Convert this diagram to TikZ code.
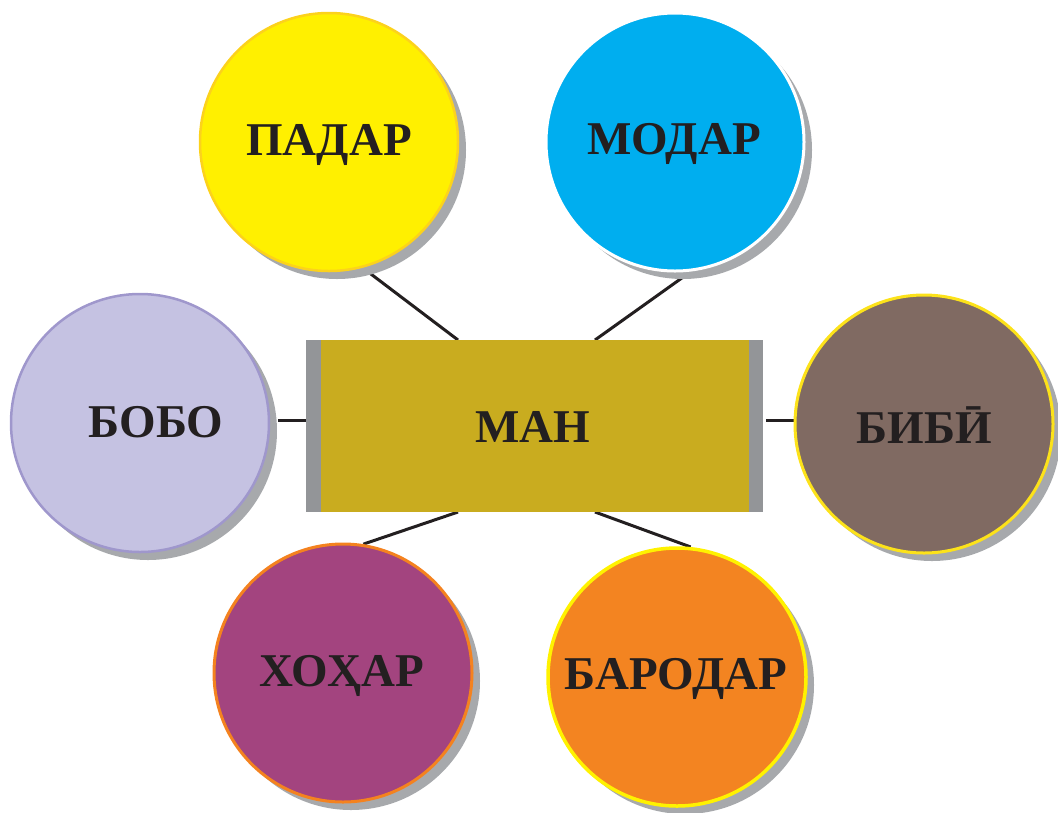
\documentclass[tikz,border=0pt]{standalone}
\usepackage{fontspec}
\setmainfont{Liberation Serif}
\usetikzlibrary{shadows,backgrounds}
\definecolor{txt}{HTML}{231F20}
\definecolor{shd}{HTML}{A7A9AC}
\definecolor{yelF}{HTML}{FFF000}
\definecolor{yelB}{HTML}{FCD21C}
\definecolor{bluF}{HTML}{00AEEF}
\definecolor{lavF}{HTML}{C5C2E2}
\definecolor{lavB}{HTML}{9F97CC}
\definecolor{brnF}{HTML}{806A62}
\definecolor{brnB}{HTML}{FCE21A}
\definecolor{purF}{HTML}{A3447F}
\definecolor{purB}{HTML}{F4821F}
\definecolor{orgF}{HTML}{F38421}
\definecolor{orgB}{HTML}{FFF200}
\definecolor{gold}{HTML}{C9AC1F}
\definecolor{bar}{HTML}{939598}
\tikzset{
  circ/.style={circle, minimum size=258pt, inner sep=0pt, line width=2.5pt,
    drop shadow={shadow xshift=8pt, shadow yshift=-8pt, opacity=1, fill=shd, shadow scale=1}},
  lbl/.style={anchor=base, text=txt, font=\fontsize{47}{50}\selectfont\bfseries, inner sep=0pt},
  conn/.style={draw=txt, line width=3pt},
}
\begin{document}
\begin{tikzpicture}[x=1pt,y=-1pt]
\useasboundingbox (0,0) rectangle (1058,812);
% central box
\node[fill=bar, minimum width=457pt, minimum height=172pt, inner sep=0pt] (man) at (534.5,426) {};
\node[fill=gold, minimum width=428pt, minimum height=172pt, inner sep=0pt] (mangold) at (535,426) {};
\node[lbl] (manL) at (533,442) {МАН};
% circles
\node[circ, fill=yelF, draw=yelB] (padar) at (329,142) {};
\node[circ, fill=bluF, draw=white, line width=3pt] (modar) at (675,142) {};
\node[circ, fill=lavF, draw=lavB] (bobo) at (140,423) {};
\node[circ, fill=brnF, draw=brnB, line width=3pt] (bibi) at (924,424) {};
\node[circ, fill=purF, draw=purB, line width=3pt] (xoxar) at (343,673) {};
\node[circ, fill=orgF, draw=orgB, line width=3.5pt] (barodar) at (677,677) {};
% labels
\node[lbl] (padarL) at (329,155) {ПАДАР};
\node[lbl] (modarL) at (674,154) {МОДАР};
\node[lbl] (boboL) at (156,437) {БОБО};
\node[lbl] (bibiL) at (924,443) {БИБӢ};
\node[lbl] (xoxarL) at (342,686) {ХОҲАР};
\node[lbl] (barodarL) at (676,689) {БАРОДАР};
% connector end points on the box
\coordinate (mTL) at (458,340);
\coordinate (mTR) at (595,340);
\coordinate (mBL) at (458,512);
\coordinate (mBR) at (595,512);
\coordinate (mL) at (278,420);
\coordinate (mR) at (766,420);
\coordinate (mLe) at (306,420);
\coordinate (mRb) at (795,420);
\begin{scope}[on background layer]
\draw[conn] (padar.-75) -- (mTL);
\draw[conn] (modar.-83) -- (mTR);
\draw[conn] (mL) -- (mLe);
\draw[conn] (mR) -- (mRb);
\draw[conn] (xoxar.81) -- (mBL);
\draw[conn] (barodar.84) -- (mBR);
\end{scope}
\end{tikzpicture}
\end{document}
